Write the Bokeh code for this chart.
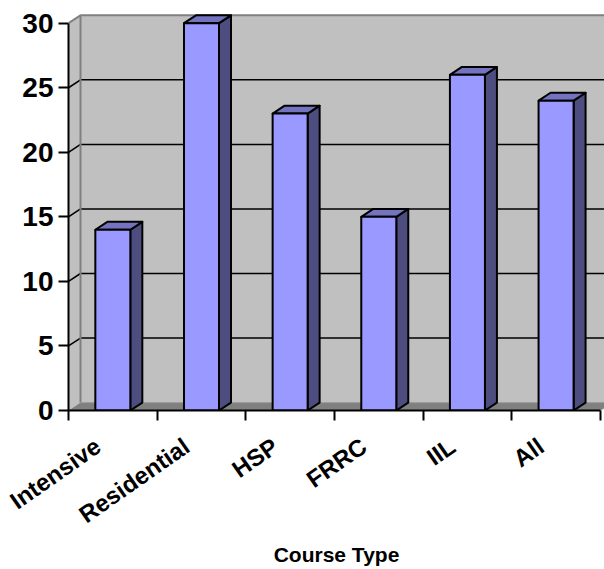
import math

from bokeh.plotting import figure
from bokeh.models import Range1d, FixedTicker
from bokeh.embed import file_html
from bokeh.resources import INLINE

# ---- data -------------------------------------------------------------
courses = ["Intensive", "Residential", "HSP", "FRRC", "IIL", "All"]
values = [14, 30, 23, 15, 26, 24]
y_ticks = [0, 5, 10, 15, 20, 25, 30]
x_title = "Course Type"

# ---- layout -----------------------------------------------------------
W, H = 604, 569
LEFT, RIGHT, TOP, BOTTOM = 68, 0, 8, 159
frame_w = W - LEFT - RIGHT
frame_h = H - TOP - BOTTOM
px_x = 88.65          # pixels per category slot
px_y = 12.91          # pixels per value unit
x_end = frame_w / px_x
y_end = frame_h / px_y
y_top = y_ticks[-1]
n = len(courses)

# depth of the 3D box and of each column, in data units
dx = 12 / px_x
dy = 7.9 / px_y
bar_w = 35 / px_x
label_shift = 15 / px_x   # slanted labels sit a little left of the slot centre

FONT = "Liberation Sans"
WALL = "#C0C0C0"
FLOOR = "#808080"
EDGE = "#808080"
FRONT = "#9999FF"
SIDE = "#4D4D80"
TOPC = "#7373BF"

p = figure(width=W, height=H, output_backend="svg", toolbar_location=None,
           x_range=Range1d(0, x_end), y_range=Range1d(0, y_end),
           min_border_left=LEFT, min_border_right=RIGHT,
           min_border_top=TOP, min_border_bottom=BOTTOM)
p.outline_line_color = None
p.background_fill_color = "white"
p.border_fill_color = "white"
p.xgrid.visible = False
p.ygrid.visible = False

# back wall
far = x_end + 1
p.patch([dx, far, far, dx], [dy, dy, y_top + dy, y_top + dy],
        fill_color=WALL, line_color=None)
# left side wall
p.patch([0, dx, dx, 0], [0, dy, y_top + dy, y_top],
        fill_color=WALL, line_color=None)
# floor
p.patch([0, n, n + dx, dx], [0, 0, dy, dy],
        fill_color=FLOOR, line_color=None)

# gridlines on back and side walls
grid_vals = y_ticks[1:-1]
p.segment(x0=[dx] * len(grid_vals), y0=[v + dy for v in grid_vals],
          x1=[far] * len(grid_vals), y1=[v + dy for v in grid_vals],
          line_color="black", line_width=1.5)
p.segment(x0=[0] * len(grid_vals), y0=grid_vals,
          x1=[dx] * len(grid_vals), y1=[v + dy for v in grid_vals],
          line_color="black", line_width=1.5)

# wall edges
p.line([dx, dx, far], [dy, y_top + dy, y_top + dy], line_color=EDGE, line_width=2)
p.line([0, dx], [y_top, y_top + dy], line_color=EDGE, line_width=2)
p.line([dx, n + dx, n], [dy, dy, 0], line_color="#9A9A9A", line_width=1)

# columns
x0s = [i + 0.5 - bar_w / 2 for i in range(n)]
x1s = [i + 0.5 + bar_w / 2 for i in range(n)]
side_xs = [[a, a + dx, a + dx, a] for a in x1s]
side_ys = [[0, dy, v + dy, v] for v in values]
top_xs = [[a, b, b + dx, a + dx] for a, b in zip(x0s, x1s)]
top_ys = [[v, v, v + dy, v + dy] for v in values]
p.patches(side_xs, side_ys, fill_color=SIDE, line_color="black",
          line_width=2, line_join="round")
p.patches(top_xs, top_ys, fill_color=TOPC, line_color="black",
          line_width=2, line_join="round")
p.quad(left=x0s, right=x1s, bottom=0, top=values,
       fill_color=FRONT, line_color="black", line_width=2)

# y axis
ya = p.yaxis[0]
ya.ticker = FixedTicker(ticks=y_ticks, minor_ticks=[])
ya.bounds = (0, y_top)
ya.axis_line_width = 2
ya.major_tick_line_width = 2
ya.major_tick_in = 0
ya.major_tick_out = 10
ya.major_label_standoff = 5
ya.major_label_text_font = FONT
ya.major_label_text_font_style = "bold"
ya.major_label_text_font_size = "28px"
ya.major_label_text_color = "black"

# x axis: labels near slot centres, tick marks on slot boundaries
xa = p.xaxis[0]
label_pos = [i + 0.5 - label_shift for i in range(n)]
xa.ticker = FixedTicker(ticks=label_pos, minor_ticks=list(range(n + 1)))
xa.major_label_overrides = {c: name for c, name in zip(label_pos, courses)}
xa.bounds = (0, n)
xa.axis_line_width = 2
xa.major_tick_line_color = None
xa.major_tick_in = 0
xa.major_tick_out = 10
xa.minor_tick_line_width = 2
xa.minor_tick_line_color = "black"
xa.minor_tick_in = 0
xa.minor_tick_out = 10
xa.major_label_orientation = math.radians(35)
xa.major_label_standoff = 23
xa.major_label_text_font = FONT
xa.major_label_text_font_style = "bold"
xa.major_label_text_font_size = "24px"
xa.major_label_text_color = "black"
xa.axis_label = x_title
xa.axis_label_text_font = FONT
xa.axis_label_text_font_style = "bold"
xa.axis_label_text_font_size = "21px"
xa.axis_label_text_color = "black"
xa.axis_label_standoff = 1

open("out.html", "w").write(file_html(p, INLINE))
